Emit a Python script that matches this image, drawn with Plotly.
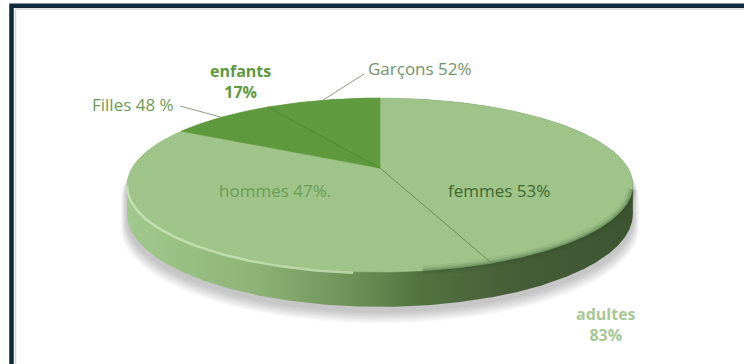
import numpy as np
import plotly.graph_objects as go

# ---------------------------------------------------------------- data
groups = ["adultes", "enfants"]
group_pct = [83, 17]

members = ["femmes", "hommes", "Filles", "Garçons"]
member_group = [0, 0, 1, 1]
member_pct = [53, 47, 48, 52]
member_fmt = ["{} {}%", "{} {}%.", "{} {} %", "{} {}%"]

# share of the whole disc for every slice, laid out clockwise from 12 o'clock
shares = [group_pct[g] * p / 10000.0 for g, p in zip(member_group, member_pct)]

# ---------------------------------------------------------------- styling
TOP_COLORS = ["#9ec48a", "#9ec48a", "#5e993d", "#609c3f"]
SIDE_SCALE = [[0.0, "#a2c98d"], [0.25, "#8db476"], [0.45, "#6c8f57"],
              [0.58, "#527340"], [0.75, "#475f38"], [1.0, "#3c5430"]]
FONT = "Open Sans"

# tilted disc seen in perspective
CX, CY = 380.0, 168.0
GX, GY, PERSP = 248.0, 83.7, 0.1954
DEPTH = 28.0


def rim(theta, drop=0.0):
    """Screen position of the disc edge at angle theta (clockwise from top)."""
    theta = np.asarray(theta, dtype=float)
    u, v = np.sin(theta), -np.cos(theta)
    k = 1.0 / (1.0 - PERSP * v)
    return CX + GX * u * k, CY + (GY * v + drop) * k


fig = go.Figure()

# silhouette of the whole cylinder (top rim at the back, lower rim in front)
grid = np.linspace(0, 2 * np.pi, 1441)
gx, _ = rim(grid)
i_r, i_l = int(np.argmax(gx)), int(np.argmin(gx))
front = grid[i_r:i_l + 1]
back = np.concatenate([grid[i_l:], grid[1:i_r + 1]])
fx, fy = rim(front, DEPTH)
bx, by = rim(back)
sil_x = np.concatenate([fx, bx])
sil_y = np.concatenate([fy, by])

# soft drop shadow under the cylinder (stacked translucent copies)
for i in range(10):
    s = 1.0 + 0.0025 * (i + 1)
    dy = 5 + 0.9 * i
    fig.add_trace(go.Scatter(
        x=CX + (sil_x - CX) * s, y=CY + (sil_y - CY) * s + dy,
        fill="toself", fillcolor="rgba(0,0,0,0.022)", mode="lines",
        line=dict(width=0), hoverinfo="skip"))

# cylinder wall, shaded left to right
fig.add_trace(go.Scatter(
    x=sil_x, y=sil_y, fill="toself", mode="lines", line=dict(width=0),
    fillgradient=dict(type="horizontal", colorscale=SIDE_SCALE,
                      start=float(gx.min()), stop=float(gx.max())),
    hoverinfo="skip"))

# top face slices
edges = np.concatenate([[0.0], np.cumsum(shares)]) * 2 * np.pi
for a0, a1, col in zip(edges[:-1], edges[1:], TOP_COLORS):
    th = np.linspace(a0, a1, max(int((a1 - a0) * 120), 8))
    x, y = rim(th)
    fig.add_trace(go.Scatter(
        x=np.concatenate([[CX], x, [CX]]), y=np.concatenate([[CY], y, [CY]]),
        fill="toself", fillcolor=col, mode="lines",
        line=dict(width=0.6, color=col), hoverinfo="skip"))

# bevel: light rim on the left, darker rim on the right
th = np.linspace(np.radians(185), grid[i_l], 80)
x, y = rim(th, 1.0)
fig.add_trace(go.Scatter(x=x, y=y, mode="lines", hoverinfo="skip",
                         line=dict(width=2.5, color="rgba(205,232,190,0.75)")))
th = np.linspace(grid[i_r] + 0.05, np.radians(172), 80)
x, y = rim(th)
for w, a in [(10, 0.08), (6, 0.12), (3, 0.16)]:
    fig.add_trace(go.Scatter(x=x, y=y, mode="lines", hoverinfo="skip",
                             line=dict(width=w, color=f"rgba(45,75,35,{a})")))

# separators between sub-slices
for idx, col in [(1, "#6a9653"), (3, "#4f8a31")]:
    x, y = rim(edges[idx])
    fig.add_trace(go.Scatter(x=[CX, float(x)], y=[CY, float(y)], mode="lines",
                             hoverinfo="skip", line=dict(width=1, color=col)))

# ---------------------------------------------------------------- labels
def label(txt, x, y, color, size=17, bold=False, anchor="center"):
    fig.add_annotation(x=x, y=y, text=f"<b>{txt}</b>" if bold else txt,
                       showarrow=False, xanchor=anchor, yanchor="middle",
                       font=dict(family=FONT, size=size, color=color))


texts = [f.format(m, p) for f, m, p in zip(member_fmt, members, member_pct)]
label(texts[0], 499, 190, "#3f6832")
label(texts[1], 275, 190, "#6b9d55")
label(texts[2], 176, 104, "#6f9a5c", size=17, anchor="right")
label(texts[3], 366, 68, "#72936a", anchor="left")
label(f"{groups[1]}<br>{group_pct[1]}%", 240, 81, "#5e993d", size=16, bold=True)
label(f"{groups[0]}<br>{group_pct[0]}%", 606, 324, "#a7c895", size=16, bold=True)

# leader lines to the two children slices
for idx, (lx, ly) in [(3, (364, 74)), (2, (180, 106))]:
    mid = 0.5 * (edges[idx] + edges[idx + 1])
    px, py = rim(mid)
    fig.add_shape(type="line", x0=lx, y0=ly, x1=float(px), y1=float(py),
                  line=dict(color="#8c9c84", width=1))

# ---------------------------------------------------------------- frame
fig.add_shape(type="rect", x0=15.5, y0=9, x1=800, y1=420,
              line=dict(color="#d6d6d6", width=1.5), layer="above")
fig.add_shape(type="rect", x0=11.5, y0=5.7, x1=800, y1=420,
              line=dict(color="#0e2a3b", width=4.5), layer="above")

fig.update_layout(
    width=744, height=364, margin=dict(l=0, r=0, t=0, b=0),
    paper_bgcolor="white", plot_bgcolor="white", showlegend=False,
    xaxis=dict(range=[0, 744], visible=False, fixedrange=True),
    yaxis=dict(range=[364, 0], visible=False, fixedrange=True),
)

fig.write_html("out.html")
